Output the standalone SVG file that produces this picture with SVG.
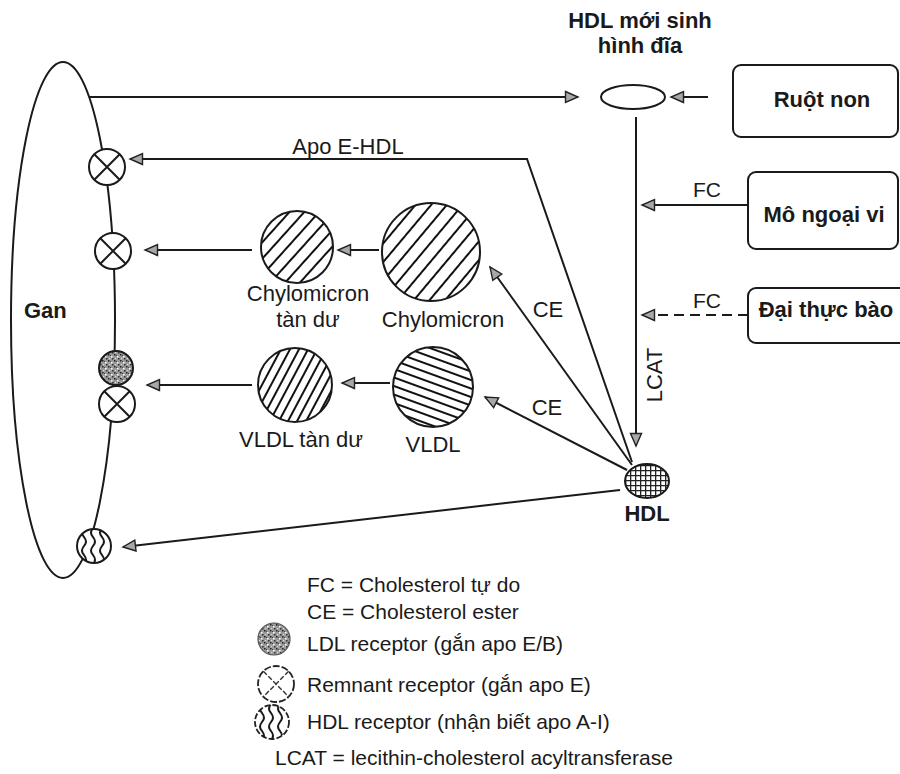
<svg xmlns="http://www.w3.org/2000/svg" width="900" height="774" viewBox="0 0 900 774">
<defs>
<style>
.ln{stroke:#1a1a1a;stroke-width:2;fill:none}
.t{font-family:"Liberation Sans",Arial,sans-serif;font-size:22px;fill:#1a1a1a}
.b{font-weight:bold}
.lg{font-size:21px}
.rc{fill:#fff;stroke:#1a1a1a;stroke-width:2}
.x{stroke:#1a1a1a;stroke-width:2}
.w{stroke:#1a1a1a;stroke-width:2;fill:none}
</style>
<marker id="ah" markerWidth="16" markerHeight="14" refX="14" refY="7" orient="auto" markerUnits="userSpaceOnUse">
<path d="M1.5,1.5 L14,7 L1.5,12.5 Z" fill="#a8a8a8" stroke="#222" stroke-width="1.4"/>
</marker>
<pattern id="h1" width="12" height="12" patternUnits="userSpaceOnUse" patternTransform="rotate(-50)">
<line x1="0" y1="6" x2="12" y2="6" stroke="#111" stroke-width="2"/>
</pattern>
<pattern id="h2" width="11" height="11" patternUnits="userSpaceOnUse" patternTransform="rotate(-48)">
<line x1="0" y1="5" x2="11" y2="5" stroke="#111" stroke-width="2"/>
</pattern>
<pattern id="h3" width="8" height="8" patternUnits="userSpaceOnUse" patternTransform="rotate(-62)">
<line x1="0" y1="4" x2="8" y2="4" stroke="#111" stroke-width="2"/>
</pattern>
<pattern id="h4" width="8" height="8" patternUnits="userSpaceOnUse" patternTransform="rotate(20)">
<line x1="0" y1="4" x2="8" y2="4" stroke="#111" stroke-width="2"/>
</pattern>
<pattern id="grid" width="5" height="5" patternUnits="userSpaceOnUse">
<rect width="5" height="5" fill="#fff"/>
<path d="M0,0.5 H5 M0.5,0 V5" stroke="#222" stroke-width="1.6"/>
</pattern>
<pattern id="stip" width="6" height="6" patternUnits="userSpaceOnUse">
<rect width="6" height="6" fill="#9a9a9a"/>
<rect x="0" y="0" width="1.5" height="1.5" fill="#222"/>
<rect x="3" y="2" width="1.5" height="1.5" fill="#fff"/>
<rect x="4" y="4" width="1.5" height="1.5" fill="#333"/>
<rect x="1" y="4" width="1.2" height="1.2" fill="#ddd"/>
<rect x="2" y="1" width="1" height="1" fill="#444"/>
</pattern>
<clipPath id="c5"><circle cx="94" cy="546" r="17"/></clipPath>
<clipPath id="c6"><circle cx="272" cy="722" r="17"/></clipPath>
</defs>

<g id="liver">
<ellipse cx="63" cy="320" rx="52" ry="258" class="ln" stroke-width="2.4"/>
<text class="t b" x="24" y="318">Gan</text>
</g>

<g id="receptor-remnant-1">
<circle cx="107" cy="167" r="18" class="rc"/>
<path class="x" d="M94.3,154.3 L119.7,179.7 M119.7,154.3 L94.3,179.7"/>
</g>
<g id="receptor-remnant-2">
<circle cx="113" cy="251" r="18" class="rc"/>
<path class="x" d="M100.3,238.3 L125.7,263.7 M125.7,238.3 L100.3,263.7"/>
</g>
<g id="receptor-ldl">
<circle cx="116" cy="368" r="17" fill="url(#stip)" stroke="#1a1a1a" stroke-width="2"/>
</g>
<g id="receptor-remnant-3">
<circle cx="117" cy="404" r="18" class="rc"/>
<path class="x" d="M104.3,391.3 L129.7,416.7 M129.7,391.3 L104.3,416.7"/>
</g>
<g id="receptor-hdl">
<circle cx="94" cy="546" r="17" class="rc"/>
<g clip-path="url(#c5)">
<path class="w" d="M84,528 q-4,5 0,9 q4,5 0,9 q-4,5 0,9 q4,5 0,9"/>
<path class="w" d="M93,528 q-4,5 0,9 q4,5 0,9 q-4,5 0,9 q4,5 0,9"/>
<path class="w" d="M102,528 q-4,5 0,9 q4,5 0,9 q-4,5 0,9 q4,5 0,9"/>
</g>
</g>

<g id="nascent-hdl">
<ellipse cx="633" cy="97" rx="32" ry="12" class="ln"/>
<text class="t b" x="640" y="28" text-anchor="middle">HDL mới sinh</text>
<text class="t b" x="640" y="53" text-anchor="middle">hình đĩa</text>
</g>

<g id="ruot-non">
<rect x="733" y="65" width="165" height="72" rx="8" class="ln"/>
<text class="t b" x="822" y="107" text-anchor="middle">Ruột non</text>
</g>
<g id="mo-ngoai-vi">
<rect x="748" y="172" width="150" height="77" rx="8" class="ln"/>
<text class="t b" x="824" y="222" text-anchor="middle">Mô ngoại vi</text>
</g>
<g id="dai-thuc-bao">
<rect x="748" y="288" width="160" height="55" rx="8" class="ln"/>
<text class="t b" x="826" y="317" text-anchor="middle">Đại thực bào</text>
</g>

<g id="chylomicron">
<circle cx="431" cy="252" r="49" fill="url(#h1)" stroke="#1a1a1a" stroke-width="2"/>
<text class="t" x="443" y="327" text-anchor="middle">Chylomicron</text>
</g>
<g id="chylomicron-remnant">
<circle cx="297" cy="247" r="36" fill="url(#h2)" stroke="#1a1a1a" stroke-width="2"/>
<text class="t" x="308" y="301" text-anchor="middle">Chylomicron</text>
<text class="t" x="308" y="327" text-anchor="middle">tàn dư</text>
</g>
<g id="vldl">
<circle cx="433" cy="387" r="40" fill="url(#h4)" stroke="#1a1a1a" stroke-width="2"/>
<text class="t" x="433" y="452" text-anchor="middle">VLDL</text>
</g>
<g id="vldl-remnant">
<circle cx="295" cy="385" r="37" fill="url(#h3)" stroke="#1a1a1a" stroke-width="2"/>
<text class="t" x="301" y="447" text-anchor="middle">VLDL tàn dư</text>
</g>

<g id="hdl">
<ellipse cx="647" cy="481" rx="22" ry="17" fill="url(#grid)" stroke="#1a1a1a" stroke-width="2"/>
<text class="t b" x="647" y="521" text-anchor="middle">HDL</text>
</g>

<g id="connectors">
<path class="ln" d="M89,97 L578,97" marker-end="url(#ah)"/>
<path class="ln" d="M708,97 L671,97" marker-end="url(#ah)"/>
<path class="ln" d="M636,117 L636,446" marker-end="url(#ah)"/>
<path class="ln" d="M748,205 L642,205" marker-end="url(#ah)"/>
<path class="ln" d="M748,315 L642,315" stroke-dasharray="10,6" marker-end="url(#ah)"/>
<path class="ln" d="M632,462 L527,159 L130,159" marker-end="url(#ah)"/>
<path class="ln" d="M632,465 L490,267" marker-end="url(#ah)"/>
<path class="ln" d="M627,470 L485,397" marker-end="url(#ah)"/>
<path class="ln" d="M620,490 L123,547" marker-end="url(#ah)"/>
<path class="ln" d="M379,250 L338,250" marker-end="url(#ah)"/>
<path class="ln" d="M252,250 L145,250" marker-end="url(#ah)"/>
<path class="ln" d="M390,383 L342,383" marker-end="url(#ah)"/>
<path class="ln" d="M252,385 L147,385" marker-end="url(#ah)"/>
<text class="t" x="348" y="154" text-anchor="middle">Apo E-HDL</text>
<text class="t lg" x="707" y="197" text-anchor="middle">FC</text>
<text class="t lg" x="707" y="308" text-anchor="middle">FC</text>
<text class="t" x="548" y="317" text-anchor="middle">CE</text>
<text class="t" x="547" y="415" text-anchor="middle">CE</text>
<text class="t" transform="translate(662,375) rotate(-90)" text-anchor="middle">LCAT</text>
</g>

<g id="legend">
<text class="t lg" x="307" y="592">FC = Cholesterol tự do</text>
<text class="t lg" x="307" y="619">CE = Cholesterol ester</text>
<circle cx="274" cy="639" r="16" fill="url(#stip)" stroke="#555" stroke-width="1.2"/>
<text class="t lg" x="307" y="651">LDL receptor (gắn apo E/B)</text>
<circle cx="276" cy="684" r="18" fill="#fff" stroke="#222" stroke-width="1.8" stroke-dasharray="7,2"/>
<path d="M263.3,671.3 L288.7,696.7 M288.7,671.3 L263.3,696.7" stroke="#333" stroke-width="1.4" stroke-dasharray="5,2"/>
<text class="t lg" x="307" y="692">Remnant receptor (gắn apo E)</text>
<circle cx="272" cy="722" r="17" fill="#fff" stroke="#222" stroke-width="1.8" stroke-dasharray="6,2"/>
<g clip-path="url(#c6)">
<path class="w" stroke-width="1.8" d="M262,704 q-4,5 0,9 q4,5 0,9 q-4,5 0,9 q4,5 0,9"/>
<path class="w" stroke-width="1.8" d="M271,704 q-4,5 0,9 q4,5 0,9 q-4,5 0,9 q4,5 0,9"/>
<path class="w" stroke-width="1.8" d="M280,704 q-4,5 0,9 q4,5 0,9 q-4,5 0,9 q4,5 0,9"/>
</g>
<text class="t lg" x="307" y="729">HDL receptor (nhận biết apo A-I)</text>
<text class="t lg" x="275" y="765">LCAT = lecithin-cholesterol acyltransferase</text>
</g>
</svg>
